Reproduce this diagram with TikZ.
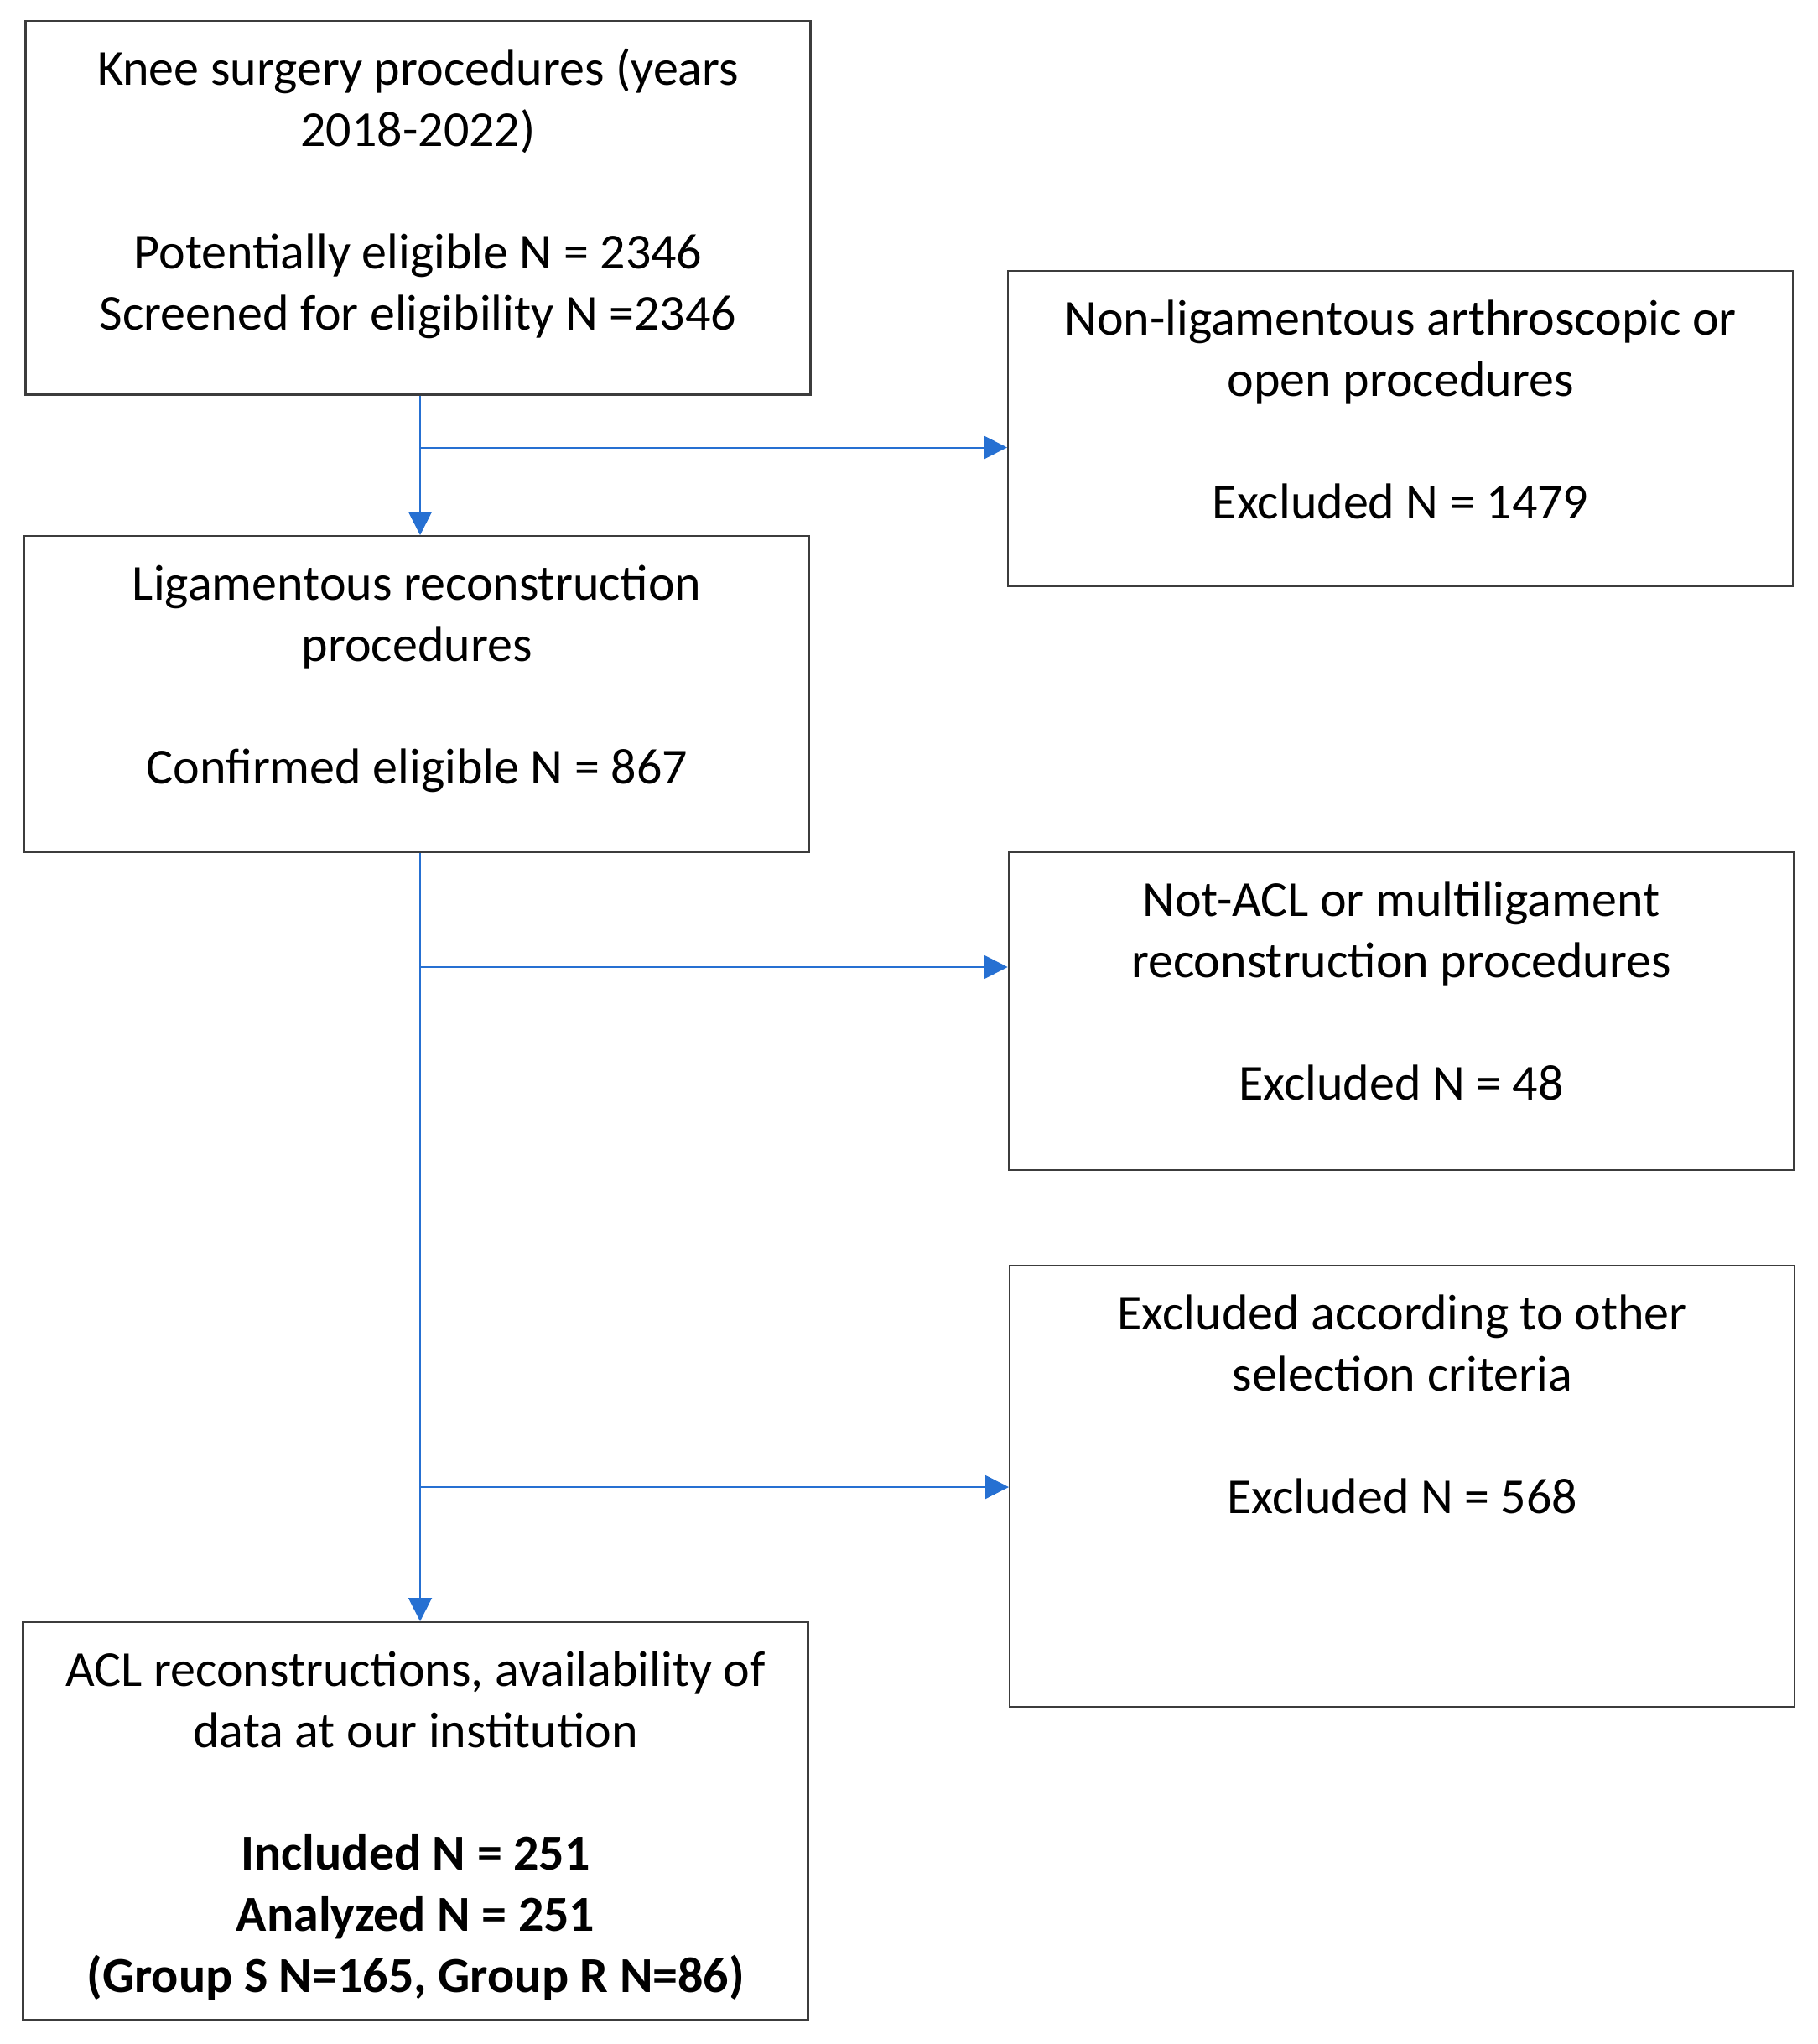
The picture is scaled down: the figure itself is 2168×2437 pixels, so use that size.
\documentclass[tikz,border=0pt]{standalone}
\usepackage{fontspec}
\setmainfont{Carlito}
\usetikzlibrary{arrows.meta}
\definecolor{flowblue}{RGB}{38,112,210}
\definecolor{boxgray}{RGB}{60,60,60}
\newcommand{\boxtext}[3]{\begin{minipage}[t][#2][t]{#1}\centering\fontsize{30pt}{36.5pt}\selectfont\rule{0pt}{38pt}#3\end{minipage}}
\begin{document}
\begin{tikzpicture}[x=0.5pt,y=0.5pt,
  fbox/.style={draw=boxgray,line width=1.2pt,inner sep=0pt,anchor=north west,fill=white},
  conn/.style={draw=flowblue,line width=1pt},
  arr/.style={conn,-{Triangle[length=14pt,width=14pt]}}]
\useasboundingbox[fill=white] (0,0) rectangle (2168,-2437);
\node[fbox] (b1) at (29.3,-24) {\boxtext{468pt}{222.6pt}{Knee surgery procedures (years\\2018-2022)\\[36.5pt]Potentially eligible N = 2346\\Screened for eligibility N =2346}};
\node[fbox] (b2) at (1201,-322) {\boxtext{468pt}{188pt}{Non-ligamentous arthroscopic or\\open procedures\\[36.5pt]Excluded N = 1479}};
\node[fbox] (b3) at (28,-638) {\boxtext{468pt}{188.5pt}{Ligamentous reconstruction\\procedures\\[36.5pt]Confirmed eligible N = 867}};
\node[fbox] (b4) at (1201.7,-1015) {\boxtext{468pt}{189.3pt}{Not-ACL or multiligament\\reconstruction procedures\\[36.5pt]Excluded N = 48}};
\node[fbox] (b5) at (1203,-1508) {\boxtext{468pt}{263pt}{Excluded according to other\\selection criteria\\[36.5pt]Excluded N = 568}};
\node[fbox] (b6) at (26.4,-1933) {\boxtext{468pt}{237pt}{ACL reconstructions, availability of\\data at our institution\\[36.5pt]\bfseries Included N = 251\\Analyzed N = 251\\(Group S N=165, Group R N=86)}};
\coordinate (j1) at (501,-533.5);
\coordinate (j2) at (501,-1153);
\coordinate (j3) at (501,-1773);
\draw[arr] (b1.south -| j1) -- (b3.north -| j1);
\draw[arr] (j1) -- (j1 -| b2.west);
\draw[arr] (b3.south -| j1) -- (b6.north -| j1);
\draw[arr] (j2) -- (j2 -| b4.west);
\draw[arr] (j3) -- (j3 -| b5.west);
\end{tikzpicture}
\end{document}
